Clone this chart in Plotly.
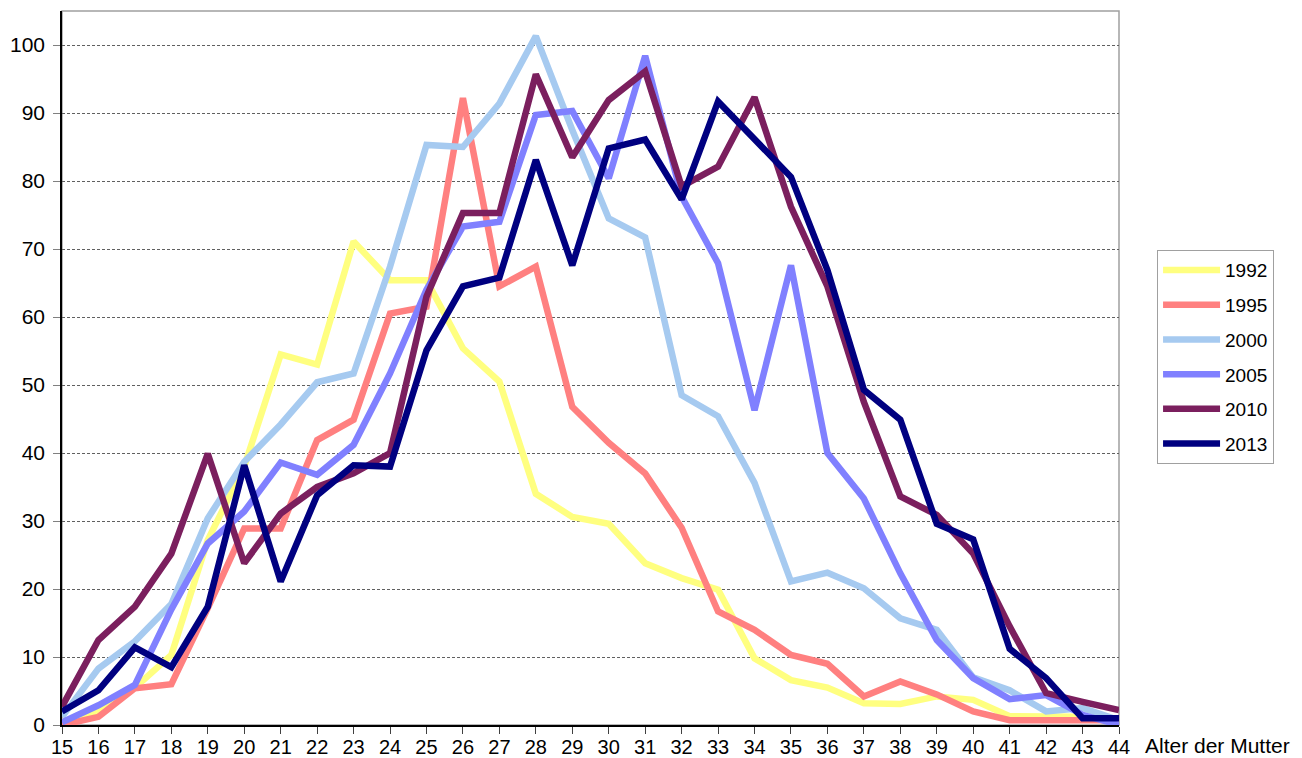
import plotly.graph_objects as go

ages = list(range(15, 45))

y1992 = [0.5, 2.0, 5.5, 10.3, 27.2, 38.0, 54.5, 53.0, 71.1, 65.4, 65.4, 55.4, 50.5, 34.0, 30.6,
         29.6, 23.8, 21.6, 19.9, 9.8, 6.6, 5.5, 3.2, 3.1, 4.2, 3.7, 1.3, 1.3, 1.2, 0.7]
y1995 = [0.0, 1.2, 5.4, 6.0, 17.2, 28.9, 28.9, 41.9, 44.9, 60.5, 61.5, 92.2, 64.5, 67.4, 46.8,
         41.5, 37.0, 29.0, 16.7, 14.0, 10.3, 9.0, 4.2, 6.4, 4.5, 2.0, 0.7, 0.7, 0.7, 0.7]
y2000 = [1.2, 8.3, 12.3, 17.8, 30.4, 38.7, 44.2, 50.4, 51.7, 67.4, 85.3, 85.0, 91.4, 101.3, 87.5,
         74.5, 71.7, 48.5, 45.4, 35.6, 21.1, 22.4, 20.1, 15.7, 14.0, 7.0, 5.1, 2.0, 2.5, 0.7]
y2005 = [0.4, 2.9, 5.9, 17.0, 26.7, 31.4, 38.6, 36.8, 41.2, 51.7, 64.0, 73.3, 74.0, 89.7, 90.3,
         80.4, 98.4, 77.7, 67.9, 46.3, 67.6, 40.0, 33.3, 22.3, 12.5, 6.9, 3.8, 4.4, 1.5, 0.0]
y2010 = [2.7, 12.5, 17.4, 25.2, 39.9, 23.8, 31.1, 35.0, 37.0, 40.0, 63.0, 75.3, 75.3, 95.7, 83.5,
         91.9, 96.1, 79.2, 82.1, 92.3, 76.2, 64.5, 47.5, 33.6, 30.9, 25.2, 14.5, 4.7, 3.4, 2.2]
y2013 = [2.0, 5.1, 11.4, 8.5, 17.4, 38.2, 21.1, 33.8, 38.2, 38.0, 55.1, 64.5, 65.8, 83.1, 67.6,
         84.8, 86.1, 77.3, 91.7, 86.0, 80.6, 66.9, 49.3, 44.9, 29.6, 27.3, 11.2, 6.9, 1.0, 1.0]

series = [
    ("1992", y1992, "#FFFF80"),
    ("1995", y1995, "#FF8080"),
    ("2000", y2000, "#A6CAF0"),
    ("2005", y2005, "#8080FF"),
    ("2010", y2010, "#7B1F5E"),
    ("2013", y2013, "#000080"),
]

yticks = list(range(0, 101, 10))
x_title = "Alter der Mutter"

fig = go.Figure()
for name, vals, col in series:
    fig.add_trace(go.Scatter(
        x=ages, y=vals, name=name, mode="lines",
        line=dict(color=col, width=6.5), legendgroup=name,
    ))

FAM = "Liberation Sans, Arial, sans-serif"
font = dict(family=FAM, size=21, color="#000000")
xfont = dict(family=FAM, size=20, color="#000000")

# page body has an 8px margin, so the figure is offset by 8px
fig.update_layout(
    width=1294, height=750,
    margin=dict(l=54, r=183, t=3, b=33, autoexpand=False),
    paper_bgcolor="white", plot_bgcolor="white",
    font=font,
    showlegend=True,
    legend=dict(
        x=1.036, y=0.665, xanchor="left", yanchor="top",
        bordercolor="#A0A0A0", borderwidth=1,
        font=dict(family=FAM, size=19, color="#000000"),
        tracegroupgap=7, traceorder="grouped", itemwidth=57,
    ),
    shapes=[dict(type="rect", xref="paper", yref="paper", x0=0, x1=1, y0=0, y1=1,
                 line=dict(color="#A0A0A0", width=1.5), layer="below")],
    annotations=[dict(text=x_title, xref="paper", yref="paper", x=1.0227, y=-0.029,
                      xanchor="left", yanchor="middle", showarrow=False,
                      font=font)],
)

fig.update_xaxes(
    range=[15, 44], tickmode="array", tickvals=ages, ticktext=[str(a) for a in ages],
    showgrid=False, zeroline=False, automargin=False,
    showline=True, linecolor="#000000", linewidth=1.5,
    ticks="outside", ticklen=7, tickcolor="#404040", tickwidth=1,
    tickfont=xfont, ticklabelstandoff=-4,
)
fig.update_yaxes(
    range=[0, 105], tickmode="array", tickvals=yticks, ticktext=[str(v) for v in yticks],
    showgrid=True, gridcolor="#606060", gridwidth=1, griddash="3px,2px",
    zeroline=False, automargin=False,
    showline=True, linecolor="#000000", linewidth=1.5,
    ticks="outside", ticklen=7, tickcolor="#808080", tickwidth=1,
    tickfont=font, ticklabelstandoff=4,
)

fig.write_html("out.html")
